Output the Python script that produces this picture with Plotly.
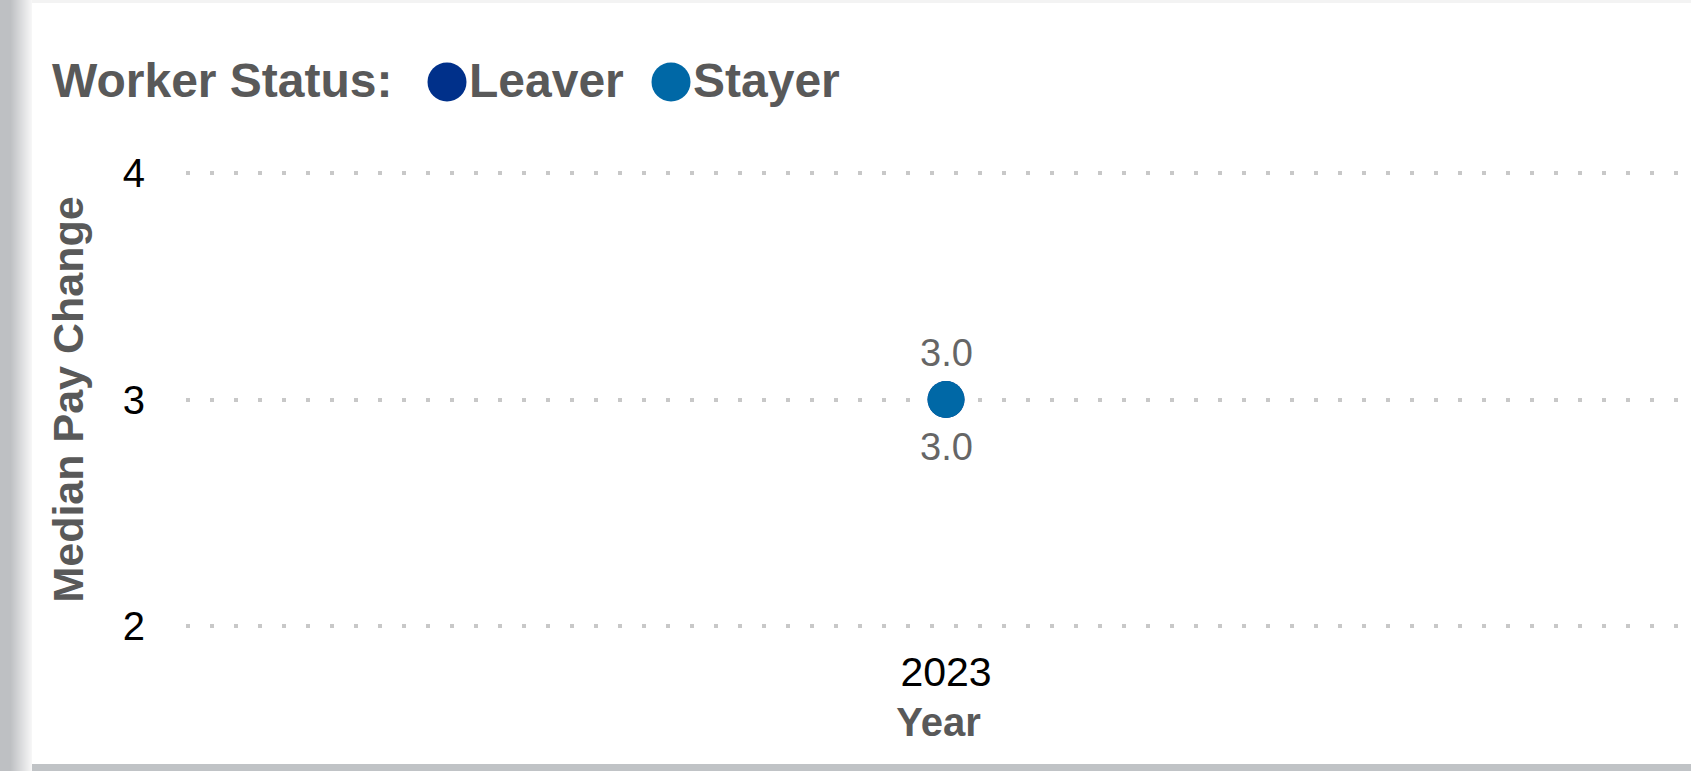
import plotly.graph_objects as go

# ---- data ----
years = [2023]
series_names = ["Leaver", "Stayer"]
leaver_values = [3.0]
stayer_values = [3.0]
series_colors = ["#00308A", "#0068A6"]
y_tick_values = [2, 3, 4]
y_tick_labels = ["2", "3", "4"]
x_tick_values = [2023]
x_tick_labels = ["2023"]

FONT = "Liberation Sans, Arial, Helvetica, sans-serif"
W, H = 1691, 771
L, R, T, B = 186, 0, 172, 144
PW, PH = W - L - R, H - T - B


def px2x(px):
    return (px - L) / PW


def py2y(py):
    return (H - B - py) / PH


fig = go.Figure()
values = [leaver_values, stayer_values]
for name, vals, col in zip(series_names, values, series_colors):
    fig.add_trace(go.Scatter(
        x=years, y=vals, name=name, mode="markers",
        marker=dict(size=37, color=col),
        showlegend=False, cliponaxis=False, hoverinfo="skip",
    ))

# data labels (Leaver above, Stayer below)
shifts = [47, -47]
annotations = []
for vals, sh in zip(values, shifts):
    for xv, yv in zip(years, vals):
        annotations.append(dict(
            x=xv, y=yv, xref="x", yref="y", text=f"{yv:.1f}",
            showarrow=False, yshift=sh, xanchor="center", yanchor="middle",
            font=dict(family=FONT, size=38, color="#666666"),
        ))

# custom legend
annotations.append(dict(
    x=px2x(50), y=py2y(80), xref="paper", yref="paper", text="Worker Status:",
    showarrow=False, xanchor="left", yanchor="middle",
    font=dict(family=FONT, size=48, color="#595959", weight="bold"),
))
legend_marker_cx = [447, 671]
shapes = []
for name, col, cx in zip(series_names, series_colors, legend_marker_cx):
    shapes.append(dict(
        type="circle", xref="paper", yref="paper",
        x0=px2x(cx - 19.5), x1=px2x(cx + 19.5),
        y0=py2y(82 + 19.5), y1=py2y(82 - 19.5),
        fillcolor=col, line=dict(width=0),
    ))
    annotations.append(dict(
        x=px2x(cx + 20), y=py2y(80), xref="paper", yref="paper", text=name,
        showarrow=False, xanchor="left", yanchor="middle",
        font=dict(family=FONT, size=48, color="#595959", weight="bold"),
    ))

# card shadow decorations
def lerp(a, b, t):
    return int(round(a + (b - a) * t))

dark = (190, 192, 195)
light = (246, 246, 246)
for i in range(32):
    if i < 10:
        c = dark
    else:
        t = (i - 10) / 21
        c = tuple(lerp(d, l, t) for d, l in zip(dark, light))
    shapes.append(dict(
        type="rect", xref="paper", yref="paper", layer="below",
        x0=px2x(i), x1=px2x(i + 1), y0=py2y(H), y1=py2y(0),
        fillcolor="rgb(%d,%d,%d)" % c, line=dict(width=0),
    ))
shapes.append(dict(
    type="rect", xref="paper", yref="paper", layer="below",
    x0=px2x(32), x1=px2x(W), y0=py2y(H), y1=py2y(764),
    fillcolor="rgb(192,195,198)", line=dict(width=0),
))
shapes.append(dict(
    type="rect", xref="paper", yref="paper", layer="below",
    x0=px2x(32), x1=px2x(W), y0=py2y(3), y1=py2y(0),
    fillcolor="rgb(243,243,243)", line=dict(width=0),
))

fig.update_layout(
    width=W, height=H,
    margin=dict(l=L, r=R, t=T, b=B, autoexpand=False),
    paper_bgcolor="white", plot_bgcolor="white",
    showlegend=False, hovermode=False,
    annotations=annotations, shapes=shapes,
    xaxis=dict(
        type="linear", range=[2022.495, 2023.495],
        tickvals=x_tick_values, ticktext=x_tick_labels,
        showgrid=False, zeroline=False, showline=False, ticks="",
        tickfont=dict(family=FONT, size=41, color="#000000"),
        ticklabelstandoff=17,
        title=dict(text="Year", standoff=13,
                   font=dict(family=FONT, size=40, color="#595959", weight="bold")),
        automargin=False,
    ),
    yaxis=dict(
        range=[1.995, 4.005], tickvals=y_tick_values, ticktext=y_tick_labels,
        showgrid=True, gridcolor="#c8c8c8", gridwidth=4, griddash="4px,20px",
        zeroline=False, showline=False, ticks="",
        tickfont=dict(family=FONT, size=40, color="#000000"),
        ticklabelstandoff=40,
        title=dict(text="Median Pay Change", standoff=25,
                   font=dict(family=FONT, size=43, color="#595959", weight="bold")),
        automargin=False,
    ),
)

fig.write_html(
    "out.html",
    config={"displayModeBar": False},
    post_script="document.body.style.margin='0';document.body.style.overflow='hidden';",
)
